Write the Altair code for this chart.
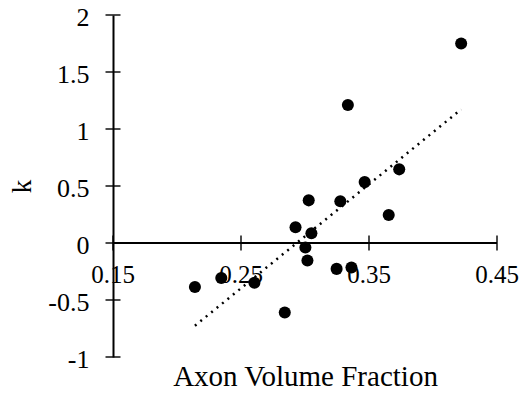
import altair as alt
import pandas as pd

# Data
axon_fraction = [0.422, 0.3335, 0.3736, 0.3466, 0.3029, 0.3276, 0.3654, 0.2926, 0.305,
                 0.3003, 0.3019, 0.3247, 0.3363, 0.2346, 0.2605, 0.214, 0.2842]
k_values = [1.75, 1.21, 0.646, 0.534, 0.374, 0.366, 0.245, 0.139, 0.086,
            -0.04, -0.153, -0.227, -0.215, -0.307, -0.348, -0.386, -0.61]

y_ticks = [-1, -0.5, 0, 0.5, 1, 1.5, 2]
x_ticks = [0.15, 0.25, 0.35, 0.45]
x_tick_labels = ["0.15", "0.25", "0.35", "0.45"]
x_range = [0.15, 0.45]
y_range = [-1, 2]

FONT = "Liberation Serif"

df = pd.DataFrame({"x": axon_fraction, "k": k_values})
xt = pd.DataFrame({"x": x_ticks, "label": x_tick_labels, "k": [0] * len(x_ticks)})
yt = pd.DataFrame({"x": [x_range[0]] * len(y_ticks), "k": y_ticks})
axis_line = pd.DataFrame({"x": [x_range[0]], "x2": [x_range[1]], "k": [0]})

xscale = alt.Scale(domain=x_range, nice=False, zero=False)
yscale = alt.Scale(domain=y_range, nice=False, zero=False)

points = alt.Chart(df).mark_circle(size=145, color="black", opacity=1).encode(
    x=alt.X("x:Q", scale=xscale,
            axis=alt.Axis(title="Axon Volume Fraction", domain=False, ticks=False, labels=False,
                          grid=False, titleFont=FONT, titleFontSize=29, titleFontWeight="normal",
                          titleColor="black", titlePadding=5)),
    y=alt.Y("k:Q", scale=yscale,
            axis=alt.Axis(title="k", values=y_ticks, labelExpr="'' + datum.value",
                          domain=True, domainColor="black", domainWidth=2, ticks=False, grid=False,
                          labelFont=FONT, labelFontSize=26, labelColor="black", labelPadding=24,
                          labelOffset=2,
                          titleFont=FONT, titleFontSize=27, titleFontWeight="normal",
                          titleColor="black", titlePadding=11)),
)

trend = alt.Chart(df).transform_regression("x", "k").mark_line(
    color="black", strokeDash=[2, 5], strokeWidth=2.5
).encode(x=alt.X("x:Q", scale=xscale), y=alt.Y("k:Q", scale=yscale))

xaxis = alt.Chart(axis_line).mark_rule(color="black", strokeWidth=2).encode(
    x=alt.X("x:Q", scale=xscale), x2="x2:Q", y=alt.Y("k:Q", scale=yscale))

xticks = alt.Chart(xt).mark_tick(orient="vertical", size=15, thickness=2, color="black").encode(
    x=alt.X("x:Q", scale=xscale), y=alt.Y("k:Q", scale=yscale))

xlabels = alt.Chart(xt).mark_text(font=FONT, fontSize=25, dy=32, color="black",
                                  baseline="middle").encode(
    x=alt.X("x:Q", scale=xscale), y=alt.Y("k:Q", scale=yscale), text="label:N")

yticks = alt.Chart(yt).mark_tick(orient="horizontal", size=15, thickness=2, color="black").encode(
    x=alt.X("x:Q", scale=xscale), y=alt.Y("k:Q", scale=yscale))

chart = alt.layer(xaxis, xticks, yticks, trend, points, xlabels).properties(
    width=384, height=342,
    padding={"left": 105, "top": 7, "right": 22, "bottom": 29},
    autosize=alt.AutoSizeParams(type="none"),
    background="white",
).configure_view(stroke=None)

chart.save("out.html", embed_options={"renderer": "svg", "actions": False})
